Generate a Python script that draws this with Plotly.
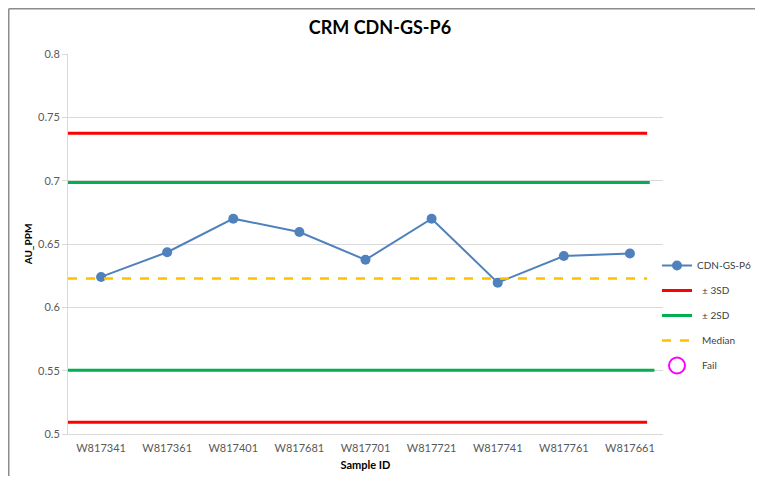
import plotly.graph_objects as go

sample_ids = ["W817341", "W817361", "W817401", "W817681", "W817701",
              "W817721", "W817741", "W817761", "W817661"]
au_ppm = [0.624, 0.6435, 0.670, 0.6595, 0.6375, 0.670, 0.6195, 0.6405, 0.6425]

sd3_upper = 0.7375
sd3_lower = 0.5092
sd2_upper = 0.6985
sd2_lower = 0.5503
median_val = 0.6228

y_ticks = [0.5, 0.55, 0.6, 0.65, 0.7, 0.75, 0.8]
y_ticktext = ["0.5", "0.55", "0.6", "0.65", "0.7", "0.75", "0.8"]

FONT = "Lato"
idx = list(range(len(sample_ids)))
x_left = -0.5
x_end_red = len(sample_ids) - 1 + 0.26
x_end_green = len(sample_ids) - 1 + 0.3

fig = go.Figure()

fig.add_trace(go.Scatter(
    x=idx, y=au_ppm, mode="lines+markers", name="CDN-GS-P6",
    line=dict(color="#4f81bd", width=2),
    marker=dict(color="#4f81bd", size=10),
    legendgroup="a"))

fig.add_trace(go.Scatter(
    x=[x_left, x_end_red], y=[sd3_upper, sd3_upper], mode="lines", name="  ± 3SD",
    line=dict(color="#ff0000", width=3), legendgroup="b"))
fig.add_trace(go.Scatter(
    x=[x_left, x_end_red], y=[sd3_lower, sd3_lower], mode="lines", name="± 3SD",
    line=dict(color="#ff0000", width=3), showlegend=False, legendgroup="b"))

fig.add_trace(go.Scatter(
    x=[x_left, x_end_green], y=[sd2_upper, sd2_upper], mode="lines", name="  ± 2SD",
    line=dict(color="#00b050", width=3), legendgroup="c"))
fig.add_trace(go.Scatter(
    x=[x_left, x_end_green + 0.07], y=[sd2_lower, sd2_lower], mode="lines", name="± 2SD",
    line=dict(color="#00b050", width=3), showlegend=False, legendgroup="c"))

fig.add_trace(go.Scatter(
    x=[x_left, x_end_red], y=[median_val, median_val], mode="lines", name="  Median",
    line=dict(color="#ffc000", width=2.5, dash="dash"), legendgroup="d"))

fig.add_trace(go.Scatter(
    x=[None], y=[None], mode="markers", name="  Fail",
    marker=dict(symbol="circle-open", color="#ff00ff", size=16, line=dict(width=2)),
    legendgroup="e"))

# the page body adds an 8px offset; figure coordinates below compensate for it
OFF = 8
W, H = 763 - 2 * OFF, 484 - 2 * OFF
L, T = 68 - OFF, 54 - OFF
R = W - (663 - OFF)
B = H - (434 - OFF)
pw, ph = W - L - R, H - T - B

# outer chart border (top and left visible in the crop)
bx = (0.75 - L) / pw
by_top = (H - B - 0.75) / ph
fig.add_shape(type="line", xref="paper", yref="paper", x0=bx, x1=(W - L) / pw,
              y0=by_top, y1=by_top, line=dict(color="#8c8c8c", width=1.5))
fig.add_shape(type="line", xref="paper", yref="paper", x0=bx, x1=bx,
              y0=by_top, y1=-B / ph, line=dict(color="#8c8c8c", width=1.5))

fig.update_layout(
    width=W, height=H,
    margin=dict(l=L, r=R, t=T, b=B, autoexpand=False),
    paper_bgcolor="white", plot_bgcolor="white",
    title=dict(text="<b>CRM CDN-GS-P6</b>", x=(380 - OFF - L) / pw, xref="paper",
               xanchor="center", y=1 - (28 - OFF) / H, yanchor="middle",
               font=dict(family=FONT, size=18, color="#000000")),
    font=dict(family=FONT, size=11, color="#595959"),
    showlegend=True,
    legend=dict(x=(657 - OFF - L) / pw, xanchor="left",
                y=(H - B - (251 - OFF)) / ph, yanchor="top",
                bgcolor="rgba(0,0,0,0)", font=dict(family=FONT, size=10, color="#404040"),
                tracegroupgap=6, itemwidth=30),
    xaxis=dict(
        range=[-0.5, len(sample_ids) - 0.5],
        tickmode="array", tickvals=idx, ticktext=sample_ids,
        showgrid=False, zeroline=False,
        showline=True, linecolor="#d9d9d9", linewidth=1,
        ticks="outside", ticklen=4, tickcolor="white",
        tickfont=dict(family=FONT, size=11, color="#595959"),
        title=dict(text="<b>Sample ID</b>", standoff=8,
                   font=dict(family=FONT, size=11, color="#000000")),
    ),
    yaxis=dict(
        range=[0.5, 0.8],
        tickmode="array", tickvals=y_ticks, ticktext=y_ticktext,
        showgrid=True, gridcolor="#d9d9d9", gridwidth=1,
        zeroline=False,
        showline=True, linecolor="#d9d9d9", linewidth=1,
        ticks="outside", ticklen=5, tickcolor="#d9d9d9",
        tickfont=dict(family=FONT, size=11, color="#595959"),
        title=dict(text="<b>AU_PPM</b>", standoff=3,
                   font=dict(family=FONT, size=10, color="#000000")),
    ),
)

fig.write_html("out.html")
